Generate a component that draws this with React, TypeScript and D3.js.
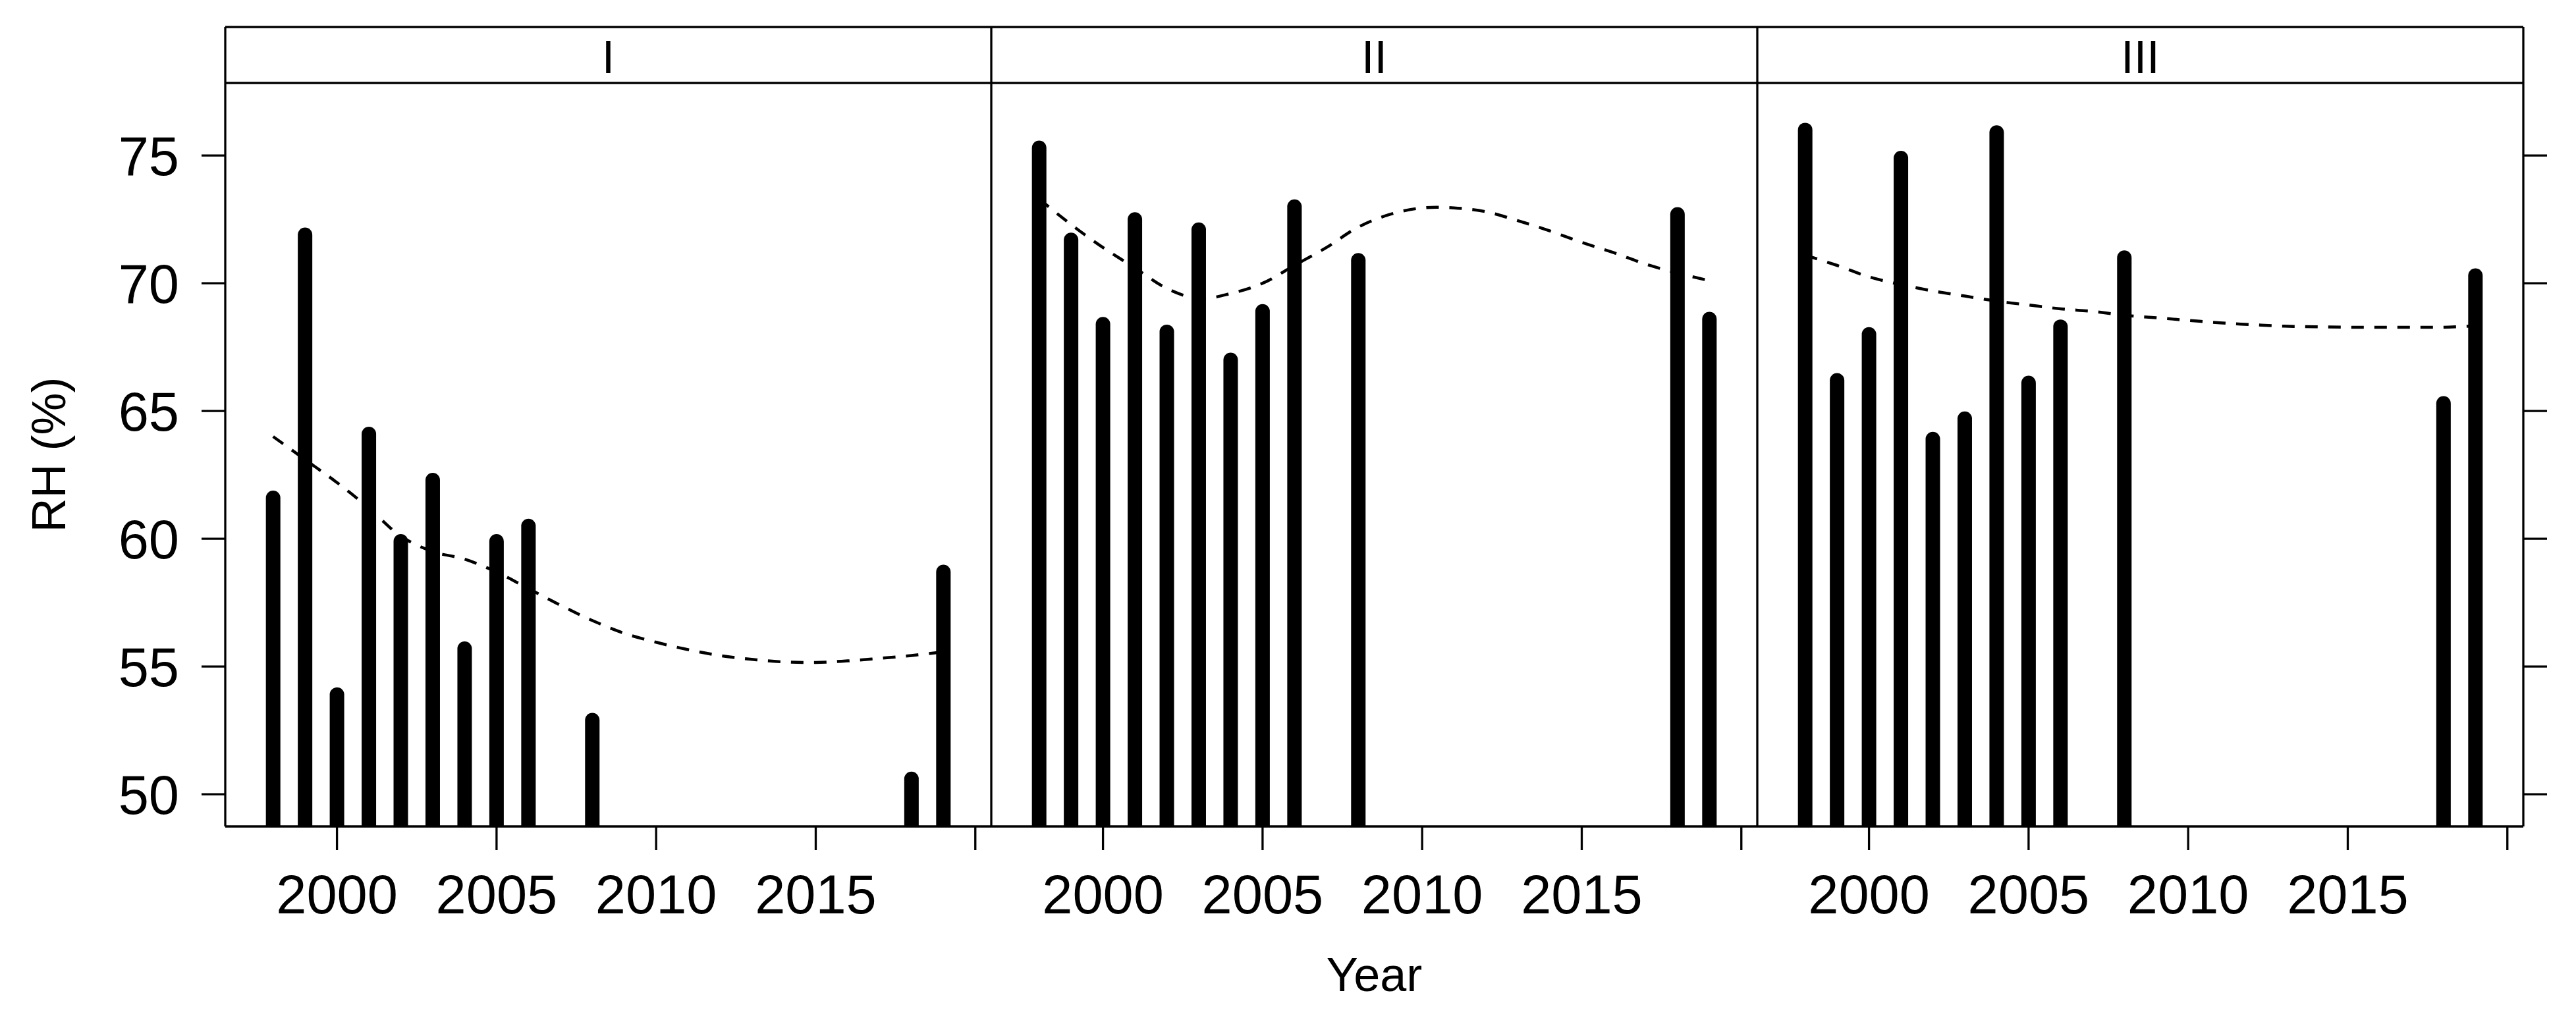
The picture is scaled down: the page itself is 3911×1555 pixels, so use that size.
import React from "react";
import * as d3 from "d3";

// observation years shared by all three panels
const years = [1998, 1999, 2000, 2001, 2002, 2003, 2004, 2005, 2006, 2008, 2018, 2019];
const rhI = [61.6, 71.9, 53.9, 64.1, 59.9, 62.3, 55.7, 59.9, 60.5, 52.9, 50.6, 58.7];
const rhII = [75.3, 71.7, 68.4, 72.5, 68.1, 72.1, 67.0, 68.9, 73.0, 70.9, 72.7, 68.6];
const rhIII = [76.0, 66.2, 68.0, 74.9, 63.9, 64.7, 75.9, 66.1, 68.3, 71.0, 65.3, 70.3];

// smoother (dashed), one value per year 1998..2019
const smoothYears = [1998, 1999, 2000, 2001, 2002, 2003, 2004, 2005, 2006, 2007, 2008,
  2009, 2010, 2011, 2012, 2013, 2014, 2015, 2016, 2017, 2018, 2019];
const smoothI = [64.0, 63.1, 62.2, 61.2, 60.1, 59.5, 59.2, 58.7, 58.05, 57.4, 56.8,
  56.3, 55.95, 55.66, 55.43, 55.28, 55.18, 55.16, 55.22, 55.32, 55.43, 55.57];
const smoothII = [73.3, 72.3, 71.4, 70.6, 69.8, 69.4, 69.6, 70.0, 70.7, 71.4, 72.2,
  72.7, 72.95, 72.95, 72.8, 72.45, 72.05, 71.6, 71.2, 70.75, 70.4, 70.1];
const smoothIII = [71.1, 70.7, 70.25, 69.95, 69.7, 69.5, 69.3, 69.15, 69.0, 68.9, 68.75,
  68.65, 68.55, 68.45, 68.38, 68.32, 68.3, 68.28, 68.28, 68.28, 68.28, 68.33];

const panelNames = ["I", "II", "III"];
const yTicks = [50, 55, 60, 65, 70, 75];
const xTicks = [2000, 2005, 2010, 2015, 2020];
const xLabels = ["2000", "2005", "2010", "2015", ""];

const W = 3911, H = 1555;
const left = 342, panelW = 1163;
const stripTop = 41, panelTop = 126, panelBottom = 1255;
const font = "'Liberation Sans', Arial, sans-serif";

export default function App() {
  const panels = [
    { name: panelNames[0], rh: rhI, sm: smoothI },
    { name: panelNames[1], rh: rhII, sm: smoothII },
    { name: panelNames[2], rh: rhIII, sm: smoothIII },
  ];
  const y = d3.scaleLinear().domain([48.74, 77.84]).range([panelBottom, panelTop]);
  const right = left + panelW * 3;

  return (
    <svg width={W} height={H} style={{ position: "absolute", left: 0, top: 0, background: "#fff" }}
      fontFamily={font}>
      <rect width={W} height={H} fill="#fff" />
      <defs>
        {panels.map((p, i) => (
          <clipPath id={"clip" + i} key={i}>
            <rect x={left + i * panelW} y={panelTop} width={panelW} height={panelBottom - panelTop} />
          </clipPath>
        ))}
      </defs>

      {panels.map((p, i) => {
        const x0 = left + i * panelW;
        const x = d3.scaleLinear().domain([1996.5, 2020.5]).range([x0, x0 + panelW]);
        const line = d3.line<number>()
          .x((d, k) => x(smoothYears[k]))
          .y(d => y(d))
          .curve(d3.curveCatmullRom);
        return (
          <g key={i}>
            <g clipPath={`url(#clip${i})`}>
              {years.map((yr, k) => (
                <line key={k} x1={x(yr)} x2={x(yr)} y1={y(p.rh[k])} y2={panelBottom + 20}
                  stroke="#000" strokeWidth={22} strokeLinecap="round" />
              ))}
              <path d={line(p.sm) || ""} fill="none" stroke="#000" strokeWidth={4.5}
                strokeDasharray="19 16" />
            </g>
            {/* strip */}
            <line x1={x0} x2={x0 + panelW} y1={stripTop} y2={stripTop} stroke="#000" strokeWidth={3.5} />
            <line x1={x0} x2={x0 + panelW} y1={panelTop} y2={panelTop} stroke="#000" strokeWidth={3.5} />
            <text x={x0 + panelW / 2} y={111} fontSize={70} textAnchor="middle">{p.name}</text>
            {/* bottom axis */}
            {xTicks.map((t, k) => (
              <g key={k}>
                <line x1={x(t)} x2={x(t)} y1={panelBottom} y2={panelBottom + 36} stroke="#000" strokeWidth={3.3} />
                <text x={x(t)} y={1387} fontSize={83} textAnchor="middle">{xLabels[k]}</text>
              </g>
            ))}
          </g>
        );
      })}

      {/* panel frames */}
      <line x1={left} x2={right} y1={panelBottom} y2={panelBottom} stroke="#000" strokeWidth={3.5} />
      {[0, 1, 2, 3].map(i => (
        <line key={i} x1={left + i * panelW} x2={left + i * panelW} y1={stripTop} y2={panelBottom}
          stroke="#000" strokeWidth={3.3} />
      ))}

      {/* left axis */}
      {yTicks.map(t => (
        <g key={t}>
          <line x1={left - 36} x2={left} y1={y(t)} y2={y(t)} stroke="#000" strokeWidth={3.3} />
          <text x={272} y={y(t)} dy="0.36em" fontSize={83} textAnchor="end">{t}</text>
          <line x1={right} x2={right + 36} y1={y(t)} y2={y(t)} stroke="#000" strokeWidth={3.3} />
        </g>
      ))}

      <text transform={`translate(99,${(panelTop + panelBottom) / 2}) rotate(-90)`} fontSize={72}
        textAnchor="middle">RH (%)</text>
      <text x={(left + right) / 2} y={1505} fontSize={72} textAnchor="middle">Year</text>
    </svg>
  );
}
